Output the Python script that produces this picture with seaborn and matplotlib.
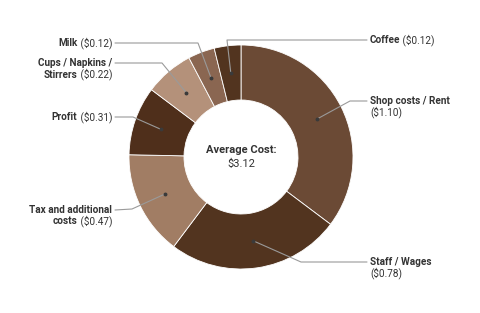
import numpy as np
import matplotlib
matplotlib.use("Agg")
import matplotlib.pyplot as plt
import seaborn as sns

sns.set_theme(style="white")
plt.rcParams['font.family'] = ['Roboto', 'DejaVu Sans']

categories = ["Shop costs / Rent", "Staff / Wages", "Tax and additional costs", "Profit",
              "Cups / Napkins / Stirrers", "Milk", "Coffee"]
values = [1.10, 0.78, 0.47, 0.31, 0.22, 0.12, 0.12]
colors = ["#6b4a35", "#52341f", "#a17d64", "#4f2f1b", "#b4917a", "#8a6651", "#52341f"]
total_label = "$3.12"

# label layout: (lines as list of [(text, bold)], anchor x, first-line y, align, elbow x, elbow y)
label_layout = [
    ([[("Shop costs / Rent", True)], [("($1.10)", False)]], 370, 101, "left", 350, 101),
    ([[("Staff / Wages", True)], [("($0.78)", False)]], 370, 262, "left", 301, 262),
    ([[("Tax and additional", True)], [("costs", True), (" ($0.47)", False)]], 112, 210, "right", 132, 209),
    ([[("Profit", True), (" ($0.31)", False)]], 112, 117, "right", 133, 117),
    ([[("Cups / Napkins /", True)], [("Stirrers", True), (" ($0.22)", False)]], 112, 63, "right", 162, 63),
    ([[("Milk", True), (" ($0.12)", False)]], 112, 43, "right", 198, 43),
    ([[("Coffee", True), (" ($0.12)", False)]], 370, 40, "left", 227, 40),
]

W, H = 480, 313
fig = plt.figure(figsize=(4.8, 3.13), dpi=100)
ax = fig.add_axes([0, 0, 1, 1])
ax.set_xlim(0, W)
ax.set_ylim(H, 0)
ax.set_aspect('equal')
ax.axis('off')

cx, cy, R, width = 241, 157, 112, 55
# y axis inverted -> counterclock=True appears clockwise
ax.pie(values, colors=colors, startangle=-90, counterclock=True, center=(cx, cy), radius=R,
       wedgeprops=dict(width=width, edgecolor="white", linewidth=0.6), frame=True)
ax.set_xlim(0, W)
ax.set_ylim(H, 0)
ax.axis('off')

txt_color = "#333333"
fs = 7.2
renderer = fig.canvas.get_renderer()

def text_width(s, bold):
    t = ax.text(0, 0, s, fontsize=fs, fontweight='bold' if bold else 'normal')
    bb = t.get_window_extent(renderer=renderer)
    t.remove()
    return bb.width

total = sum(values)
cum = 0.0
rmid = R - width / 2.0
for v, (lines, lx, ly, align, ex, ey) in zip(values, label_layout):
    frac = (cum + v / 2.0) / total
    ang = np.deg2rad(90 - 360 * frac)
    dx = cx + rmid * np.cos(ang)
    dy = cy - rmid * np.sin(ang)
    cum += v
    lstart = lx + (-3 if align == "left" else 3)
    ax.plot([lstart, ex, dx], [ly, ey, dy], color="#9a9a9a", lw=0.8, zorder=3)
    ax.plot([dx], [dy], 'o', color="#3a3a3a", ms=1.8, zorder=4)
    for i, parts in enumerate(lines):
        y = ly + i * 11.5
        widths = [text_width(s, b) for s, b in parts]
        x = lx if align == "left" else lx - sum(widths)
        for (s, b), w in zip(parts, widths):
            ax.text(x, y, s, fontsize=fs, fontweight='bold' if b else 'normal',
                    color=txt_color, va='center', ha='left')
            x += w

ax.text(cx, cy - 7, "Average Cost:", fontsize=8, fontweight='bold', color=txt_color,
        ha='center', va='center')
ax.text(cx, cy + 7, total_label, fontsize=8, color=txt_color, ha='center', va='center')

fig.savefig("out.png", dpi=100, facecolor="white")
